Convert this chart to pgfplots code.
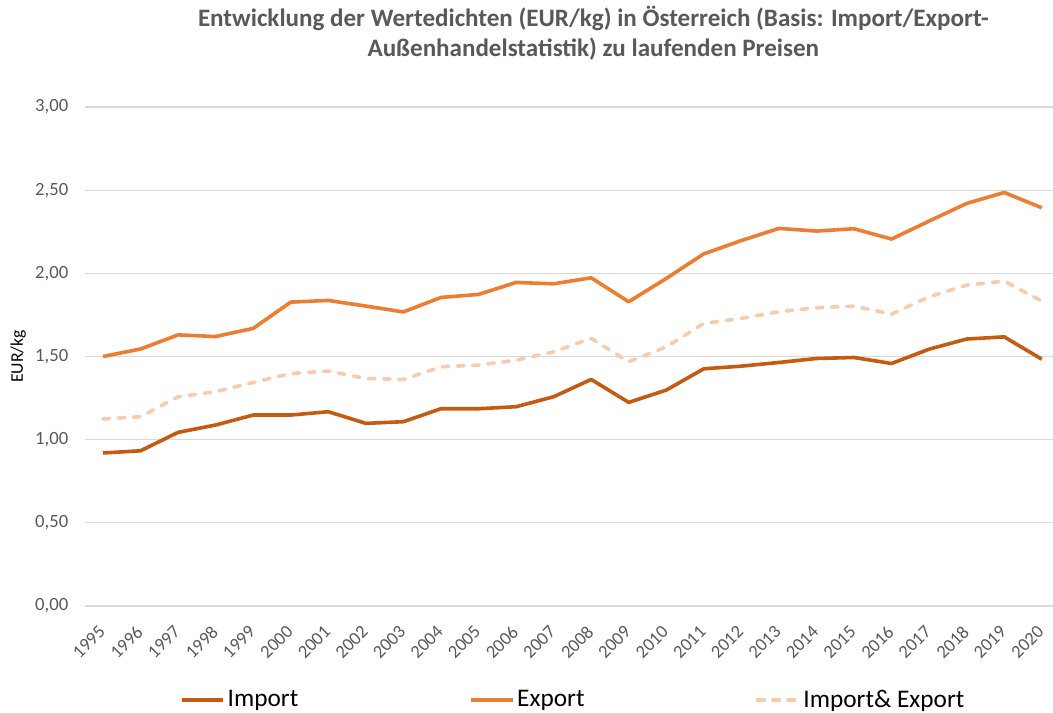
\documentclass[border=0pt]{standalone}
\usepackage{pgfplots}
\pgfplotsset{compat=1.18}
\usepackage{fontspec}
\setmainfont{Carlito}
\definecolor{cImp}{HTML}{C55A11}
\definecolor{cExp}{HTML}{ED7D31}
\definecolor{cBoth}{HTML}{F8CBAD}
\definecolor{cGrid}{HTML}{D9D9D9}
\definecolor{cTxt}{HTML}{595959}
\begin{document}
\begin{tikzpicture}
\path[use as bounding box] (0,0) rectangle (789.75pt,534.75pt);
\begin{axis}[
  at={(63.75pt,80.25pt)}, anchor=south west,
  scale only axis, width=726pt, height=374.25pt,
  xmin=1994.52, xmax=2020.3, ymin=0, ymax=3,
  xtick={1995,...,2020}, ytick={0,0.5,1,1.5,2,2.5,3},
  xticklabels={1995,1996,1997,1998,1999,2000,2001,2002,2003,2004,2005,2006,2007,2008,2009,2010,2011,2012,2013,2014,2015,2016,2017,2018,2019,2020},
  yticklabels={{0,00},{0,50},{1,00},{1,50},{2,00},{2,50},{3,00}},
  axis line style={draw=none}, tick style={draw=none},
  ymajorgrids, grid style={cGrid, line width=0.8pt},
  yticklabel style={font=\fontsize{14}{16}\selectfont, text=cTxt, xshift=-9pt},
  xticklabel style={font=\fontsize{13.8}{16}\selectfont, text=cTxt, xshift=-4pt, yshift=-9pt, rotate=45, anchor=north east},
  ylabel={EUR/kg},
  ylabel style={font=\fontsize{13.3}{16}\selectfont, at={(axis description cs:-0.069,0.5)}, anchor=center},
  legend columns=3,
  legend style={draw=none, font=\fontsize{19}{21}\selectfont, at={(0.5047,-0.188)}, anchor=center,
    /tikz/every even column/.append style={column sep=126.5pt}},
  legend image code/.code={\draw[#1] (0pt,0pt) -- (31pt,0pt);},
]
\addplot[cImp, line width=2.7pt, line join=round] coordinates {
(1995,0.920) (1996,0.933) (1997,1.044) (1998,1.088) (1999,1.148) (2000,1.148)
(2001,1.168) (2002,1.098) (2003,1.108) (2004,1.186) (2005,1.186) (2006,1.198)
(2007,1.258) (2008,1.362) (2009,1.224) (2010,1.298) (2011,1.426) (2012,1.442)
(2013,1.464) (2014,1.488) (2015,1.494) (2016,1.458) (2017,1.544) (2018,1.605)
(2019,1.618) (2020,1.484)};
\addlegendentry{Import}
\addplot[cExp, line width=2.7pt, line join=round] coordinates {
(1995,1.500) (1996,1.545) (1997,1.630) (1998,1.620) (1999,1.669) (2000,1.827)
(2001,1.837) (2002,1.803) (2003,1.768) (2004,1.855) (2005,1.873) (2006,1.945)
(2007,1.937) (2008,1.973) (2009,1.829) (2010,1.969) (2011,2.117) (2012,2.197)
(2013,2.270) (2014,2.254) (2015,2.268) (2016,2.206) (2017,2.314) (2018,2.420)
(2019,2.486) (2020,2.394)};
\addlegendentry{Export}
\addplot[cBoth, line width=2.7pt, line join=round, line cap=round, dash pattern=on 5pt off 6.4pt] coordinates {
(1995,1.124) (1996,1.138) (1997,1.258) (1998,1.288) (1999,1.344) (2000,1.398)
(2001,1.412) (2002,1.368) (2003,1.362) (2004,1.438) (2005,1.448) (2006,1.478)
(2007,1.528) (2008,1.609) (2009,1.468) (2010,1.558) (2011,1.699) (2012,1.729)
(2013,1.769) (2014,1.793) (2015,1.803) (2016,1.755) (2017,1.859) (2018,1.929)
(2019,1.953) (2020,1.833)};
\addlegendentry{Import\& Export}
\end{axis}
\node[align=center, text=cTxt, font=\bfseries\fontsize{18.8}{22.5}\selectfont] at (445pt,510pt)
  {Entwicklung der Wertedichten (EUR/kg) in Österreich (Basis: Import/Export-\\Außenhandelstatistik) zu laufenden Preisen};
\end{tikzpicture}
\end{document}
